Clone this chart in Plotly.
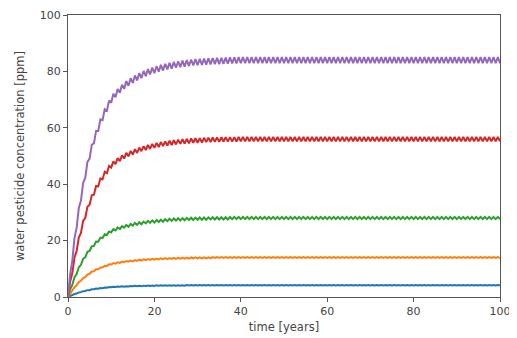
import plotly.graph_objects as go

# yearly mean levels (ppm), t = 0..40; flat afterwards
years_rise = list(range(0, 41))
blue_rise = [0, 0.7, 1.3, 1.8, 2.2, 2.5, 2.8, 3.0, 3.2, 3.4, 3.5, 3.6, 3.7, 3.7, 3.8, 3.9, 3.9, 3.9, 4.0, 4.0,
             4.0, 4.1, 4.1, 4.1, 4.1, 4.1, 4.1, 4.1, 4.2, 4.2, 4.2, 4.2, 4.2, 4.2, 4.2, 4.2, 4.2, 4.2, 4.2, 4.2, 4.2]
orange_rise = [0, 2.3, 4.3, 5.9, 7.2, 8.4, 9.3, 10.0, 10.6, 11.2, 11.7, 12.0, 12.3, 12.5, 12.7, 12.8, 13.0, 13.1, 13.2, 13.3,
               13.4, 13.5, 13.6, 13.6, 13.7, 13.7, 13.8, 13.8, 13.8, 13.9, 13.9, 13.9, 13.9, 13.9, 14.0, 14.0, 14.0, 14.0, 14.0, 14.0, 14.0]
green_rise = [0, 4.7, 8.5, 11.8, 14.5, 16.7, 18.5, 20.0, 21.3, 22.4, 23.3, 24.0, 24.5, 25.0, 25.3, 25.7, 26.0, 26.2, 26.5, 26.7,
              26.8, 27.0, 27.1, 27.3, 27.4, 27.5, 27.5, 27.6, 27.7, 27.7, 27.8, 27.8, 27.8, 27.9, 27.9, 27.9, 27.9, 27.9, 28.0, 28.0, 28.0]
red_rise = [0, 9.3, 17.1, 23.5, 28.9, 33.5, 37.1, 40.0, 42.5, 44.7, 46.7, 47.9, 49.0, 49.9, 50.7, 51.3, 51.9, 52.5, 52.9, 53.3,
            53.7, 54.0, 54.3, 54.5, 54.7, 54.9, 55.1, 55.2, 55.3, 55.5, 55.5, 55.6, 55.7, 55.7, 55.8, 55.8, 55.9, 55.9, 55.9, 55.9, 56.0]
purple_rise = [0, 14.0, 25.6, 35.3, 43.4, 50.2, 55.6, 60.0, 63.8, 67.1, 70.0, 71.9, 73.5, 74.9, 76.0, 77.0, 77.9, 78.7, 79.4, 80.0,
               80.5, 81.0, 81.4, 81.8, 82.1, 82.4, 82.6, 82.8, 83.0, 83.2, 83.3, 83.4, 83.5, 83.6, 83.7, 83.7, 83.8, 83.8, 83.9, 83.9, 84.0]
steady = {"blue": 4.2, "orange": 14.0, "green": 28.0, "red": 56.0, "purple": 84.0}
swing = {"blue": 0.15, "orange": 0.35, "green": 0.8, "red": 1.6, "purple": 2.2}

colors = {"blue": "#1f77b4", "orange": "#ff7f0e", "green": "#2ca02c", "red": "#d62728", "purple": "#9467bd"}
rises = {"blue": blue_rise, "orange": orange_rise, "green": green_rise, "red": red_rise, "purple": purple_rise}

years = list(range(0, 101))

fig = go.Figure()
for name in ["blue", "orange", "green", "red", "purple"]:
    levels = rises[name] + [steady[name]] * (len(years) - len(years_rise))
    xs, ys = [], []
    for i, t in enumerate(years):
        xs.append(t)
        ys.append(levels[i] - (swing[name] / 2 if t > 0 else 0))
        if i + 1 < len(years):
            xs.append(t + 0.5)
            ys.append((levels[i] + levels[i + 1]) / 2 + swing[name] / 2)
    fig.add_trace(go.Scatter(x=xs, y=ys, mode="lines",
                             line=dict(color=colors[name], width=2),
                             showlegend=False, hoverinfo="skip"))

axis_common = dict(showgrid=False, zeroline=False, showline=True, linecolor="#555",
                   linewidth=1, mirror=True, ticks="outside", ticklen=4, tickcolor="#555",
                   automargin=False, ticklabeloverflow="allow",
                   tickfont=dict(family="DejaVu Sans", size=11, color="#444"))
fig.update_xaxes(range=[0, 100], tickvals=[0, 20, 40, 60, 80, 100],
                 title=dict(text="time [years]", font=dict(family="DejaVu Sans", size=11.5, color="#444"), standoff=5),
                 **axis_common)
fig.update_yaxes(range=[0, 100], tickvals=[0, 20, 40, 60, 80, 100],
                 title=dict(text="water pesticide concentration [ppm]", font=dict(family="DejaVu Sans", size=11.5, color="#444"), standoff=12),
                 **axis_common)
# page body has an 8px margin, so the figure is sized/offset to place the axes where the reference has them
fig.update_layout(width=503, height=330, margin=dict(l=60, r=11, t=7, b=41),
                  paper_bgcolor="white", plot_bgcolor="white")
fig.write_html("out.html")
